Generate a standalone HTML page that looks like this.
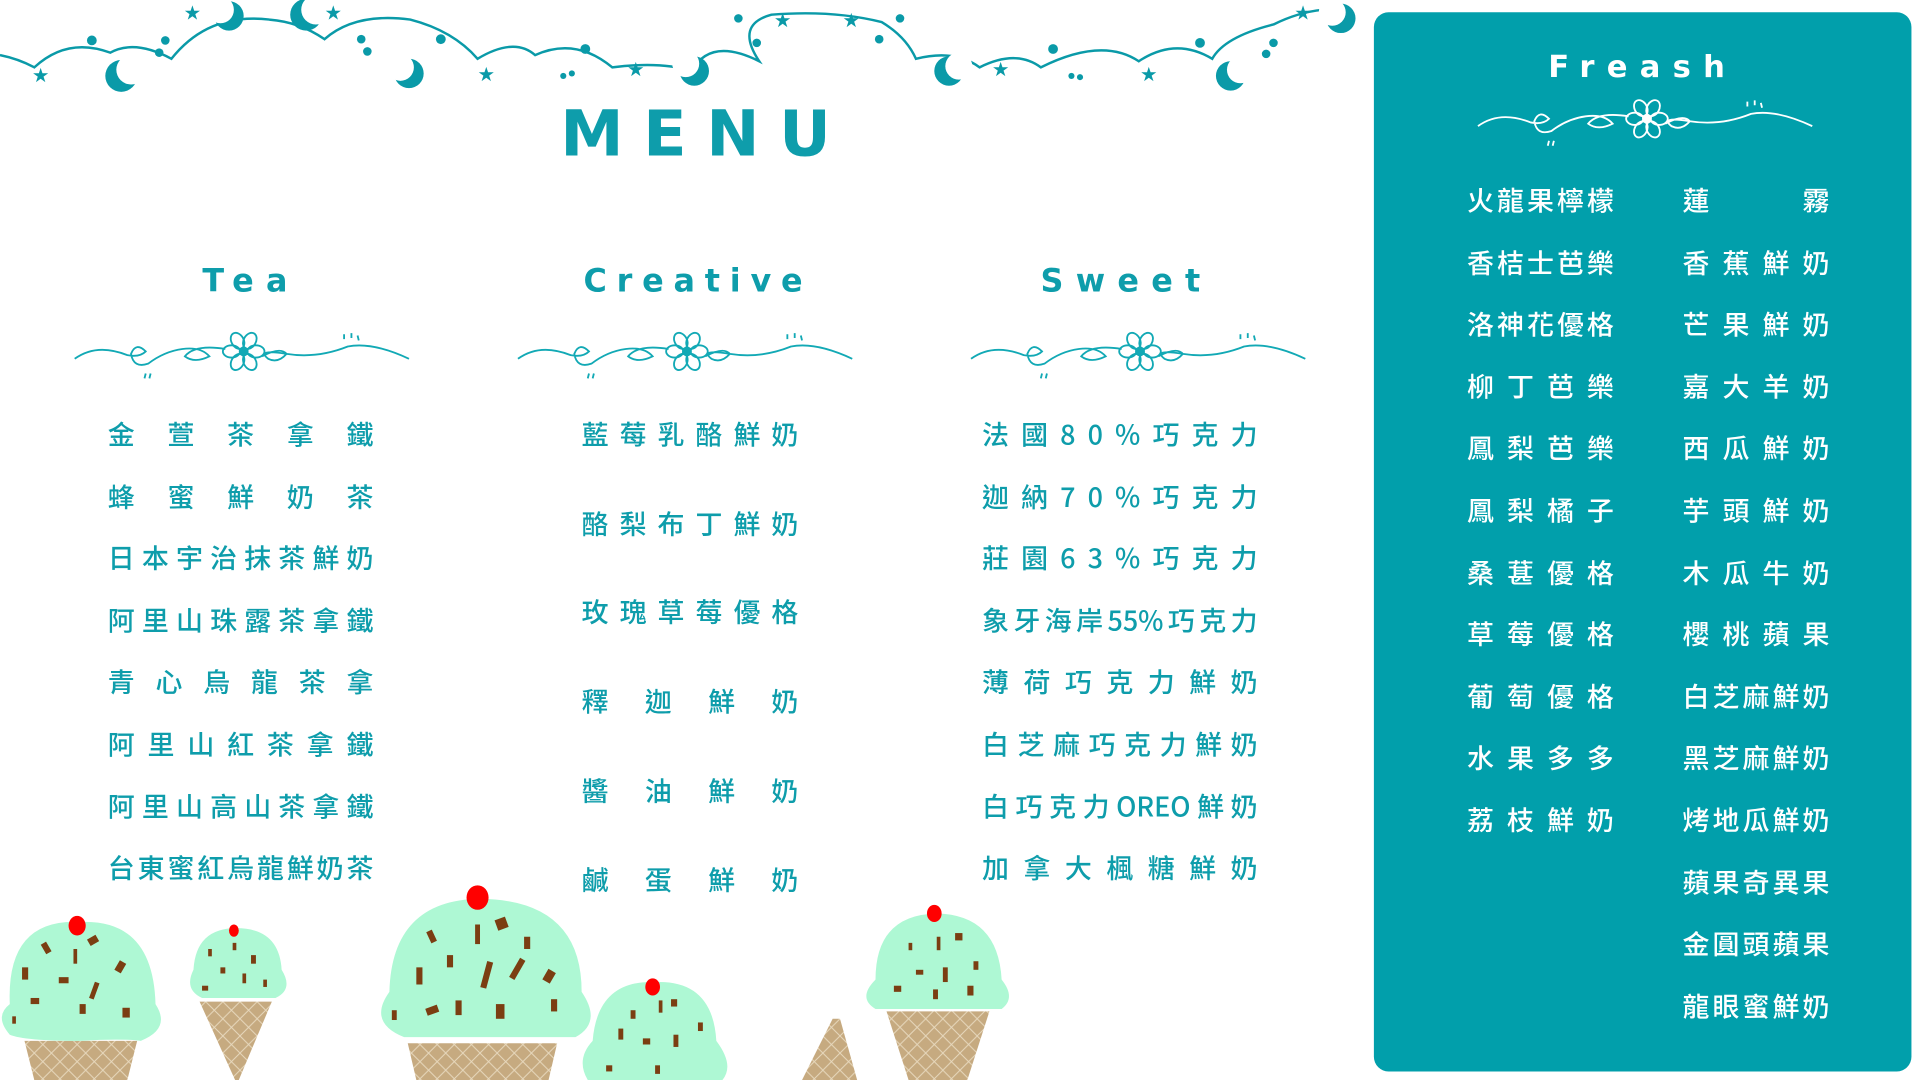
<!DOCTYPE html>
<html><head><meta charset="utf-8">
<style>
html,body{margin:0;padding:0;background:#fff;overflow:hidden;width:1920px;height:1080px}
#stage{position:absolute;left:0;top:0;width:1568px;height:882px;transform-origin:0 0;transform:scale(1.2245,1.2245);font-family:"Liberation Sans","Noto Sans CJK TC",sans-serif;color:#0e9dab}
.abs{position:absolute}
.h{font-family:"DejaVu Sans","Liberation Sans",sans-serif;font-weight:900;text-align:center;letter-spacing:10px}
.item{position:absolute;font-size:22px;font-weight:500;text-align:justify;text-align-last:justify;white-space:nowrap;line-height:26px;font-family:"Noto Sans CJK TC","Liberation Sans",sans-serif}
.split{display:flex;justify-content:space-between}
#panel{position:absolute;left:1122px;top:10px;width:439px;height:865px;background:#019fab;border-radius:12px}
.w{color:#fff}
</style></head><body>
<div id="stage">

<svg class="abs" style="left:0;top:0" width="1122" height="90">
 <path d="M0 45 Q15 48 28 55 Q55 30 90 43 Q110 32 140 48 Q170 10 220 16 Q245 18 265 32 Q290 10 335 16 Q370 25 390 48 Q420 30 437 45 Q470 30 500 55 Q540 50 565 58 Q580 30 620 50 Q600 20 630 12 Q680 8 720 18 Q740 30 748 48 Q780 40 800 55 Q830 40 850 55 Q900 30 930 50 Q960 30 990 48 Q1000 30 1040 20 Q1060 10 1080 8" fill="none" stroke="#0a9aa8" stroke-width="2"/>
 <g fill="#0a9aa8">
  <circle cx="99" cy="62" r="13"/><circle cx="107" cy="57" r="12" fill="#fff"/>
  <circle cx="187" cy="13" r="12"/><circle cx="180" cy="8" r="11" fill="#fff"/>
  <circle cx="250" cy="12" r="13"/><circle cx="258" cy="8" r="12" fill="#fff"/>
  <circle cx="334" cy="60" r="12"/><circle cx="327" cy="55" r="11" fill="#fff"/>
  <circle cx="567" cy="58" r="12"/><circle cx="560" cy="52" r="11" fill="#fff"/>
  <circle cx="775" cy="58" r="12"/><circle cx="783" cy="54" r="11" fill="#fff"/>
  <circle cx="1005" cy="62" r="12"/><circle cx="1013" cy="57" r="11" fill="#fff"/>
  <circle cx="1095" cy="15" r="12"/><circle cx="1088" cy="10" r="11" fill="#fff"/>
  <circle cx="75" cy="33" r="4"/><circle cx="135" cy="33" r="3.5"/><circle cx="130" cy="43" r="3.5"/>
  <circle cx="295" cy="32" r="3.5"/><circle cx="300" cy="42" r="3.5"/><circle cx="360" cy="32" r="4"/>
  <circle cx="478" cy="40" r="4"/><circle cx="460" cy="62" r="2.5"/><circle cx="467" cy="60" r="2.5"/>
  <circle cx="603" cy="15" r="3.5"/><circle cx="618" cy="35" r="3.5"/><circle cx="735" cy="15" r="3.5"/><circle cx="718" cy="32" r="3.5"/>
  <circle cx="860" cy="40" r="4"/><circle cx="875" cy="62" r="2.5"/><circle cx="882" cy="63" r="2.5"/>
  <circle cx="980" cy="35" r="4"/><circle cx="1040" cy="35" r="3.5"/><circle cx="1034" cy="44" r="3.5"/>
 </g>
 <g fill="#0a9aa8" font-size="16" font-family="DejaVu Sans">
  <text x="26" y="67">★</text><text x="150" y="16">★</text><text x="265" y="16">★</text><text x="390" y="66">★</text>
  <text x="512" y="62">★</text><text x="632" y="22">★</text><text x="688" y="22">★</text><text x="810" y="62">★</text>
  <text x="931" y="66">★</text><text x="1057" y="16">★</text>
 </g>
</svg>

<div class="abs h" style="left:400px;top:80px;width:320px;font-size:52px;letter-spacing:16px;padding-left:16px">MENU</div>

<div class="abs h" style="left:100px;top:215px;width:210px;font-size:26px">Tea</div>
<div class="abs h" style="left:440px;top:215px;width:260px;font-size:26px;letter-spacing:8px">Creative</div>
<div class="abs h" style="left:810px;top:215px;width:220px;font-size:26px">Sweet</div>

<div id="panel">
 <div class="abs h w" style="left:0;top:30px;width:439px;font-size:25px;letter-spacing:10px">Freash</div>
</div>

<div id="flourishes"></div>
<div id="items"></div>

<svg class="abs" style="left:0;top:720px" width="900" height="162">
 <defs>
  <pattern id="waf" width="14" height="14" patternUnits="userSpaceOnUse"><rect width="14" height="14" fill="#c6aa80"/><path d="M0 0L14 14M14 0L0 14" stroke="#e7d8bd" stroke-width="0.8"/></pattern>
 </defs>
 <g fill="url(#waf)">
  <polygon points="20,130 112,130 104,162 28,162"/>
  <polygon points="163,98 222,98 195,162 192,162"/>
  <polygon points="333,132 455,132 448,162 340,162"/>
  <polygon points="680,112 686,112 700,162 655,162"/>
  <polygon points="724,106 808,106 790,162 742,162"/>
 </g>
 <g fill="#aef8d4">
  <path d="M8 100 Q5 30 65 33 Q125 30 127 100 Q140 120 115 130 Q100 128 65 130 Q20 130 8 125 Q-5 110 8 100Z"/>
  <path d="M158 72 Q160 38 193 38 Q228 38 230 72 Q240 88 225 95 L165 95 Q150 88 158 72Z"/>
  <path d="M318 90 Q320 15 392 14 Q475 15 475 90 Q492 115 470 127 L330 127 Q300 115 318 90Z"/>
  <path d="M484 130 Q488 80 535 82 Q582 80 585 130 Q600 150 590 162 L480 162 Q470 145 484 130Z"/>
  <path d="M715 80 Q715 27 765 26 Q815 27 818 80 Q830 95 818 104 L715 104 Q700 95 715 80Z"/>
 </g>
 <g fill="#7b3e12">
  <rect x="35" y="50" width="5" height="9" transform="rotate(-30 37 54)"/><rect x="60" y="55" width="3" height="12"/><rect x="72" y="45" width="8" height="6" transform="rotate(-30 76 48)"/>
  <rect x="18" y="70" width="5" height="10"/><rect x="48" y="78" width="8" height="5"/><rect x="75" y="82" width="4" height="14" transform="rotate(20 77 89)"/>
  <rect x="95" y="65" width="6" height="9" transform="rotate(30 98 70)"/><rect x="25" y="95" width="7" height="5"/><rect x="65" y="100" width="5" height="8"/>
  <rect x="100" y="103" width="6" height="8"/><rect x="10" y="110" width="3" height="6"/>
  <rect x="170" y="55" width="3" height="6"/><rect x="190" y="50" width="3" height="6"/><rect x="205" y="60" width="4" height="7"/><rect x="180" y="70" width="4" height="5"/><rect x="198" y="75" width="3" height="8"/><rect x="165" y="85" width="5" height="4"/><rect x="215" y="80" width="3" height="6"/>
  <rect x="350" y="40" width="5" height="10" transform="rotate(-25 352 45)"/><rect x="388" y="35" width="4" height="16"/><rect x="405" y="30" width="9" height="9" transform="rotate(-20 409 34)"/><rect x="428" y="45" width="5" height="10"/>
  <rect x="340" y="70" width="5" height="14"/><rect x="365" y="60" width="5" height="10"/><rect x="395" y="65" width="5" height="22" transform="rotate(15 397 76)"/><rect x="420" y="62" width="5" height="18" transform="rotate(30 422 71)"/><rect x="445" y="72" width="7" height="10" transform="rotate(30 448 77)"/>
  <rect x="348" y="102" width="10" height="6" transform="rotate(-20 353 105)"/><rect x="372" y="97" width="5" height="12"/><rect x="405" y="100" width="7" height="12"/><rect x="450" y="96" width="5" height="10"/><rect x="320" y="105" width="4" height="8"/>
  <rect x="515" y="105" width="4" height="7"/><rect x="538" y="97" width="3" height="10"/><rect x="548" y="96" width="5" height="6"/><rect x="505" y="120" width="4" height="9"/><rect x="525" y="128" width="6" height="5"/><rect x="550" y="125" width="4" height="10"/><rect x="570" y="115" width="4" height="7"/><rect x="495" y="150" width="5" height="5"/><rect x="535" y="150" width="4" height="7"/>
  <rect x="742" y="50" width="3" height="6"/><rect x="765" y="45" width="3" height="11"/><rect x="780" y="42" width="6" height="6"/><rect x="748" y="72" width="6" height="4"/><rect x="770" y="70" width="4" height="12"/><rect x="795" y="65" width="4" height="7"/><rect x="730" y="85" width="6" height="5"/><rect x="762" y="88" width="4" height="8"/><rect x="790" y="85" width="5" height="8"/>
 </g>
 <g fill="#f00">
  <ellipse cx="63" cy="36" rx="7" ry="8"/><ellipse cx="191" cy="40" rx="4" ry="5"/><ellipse cx="390" cy="13" rx="9" ry="10"/><ellipse cx="533" cy="86" rx="6" ry="7"/><ellipse cx="763" cy="26" rx="6" ry="7"/>
 </g>
</svg>
</div>

<script>
const tea=["金萱茶拿鐵","蜂蜜鮮奶茶","日本宇治抹茶鮮奶","阿里山珠露茶拿鐵","青心烏龍茶拿","阿里山紅茶拿鐵","阿里山高山茶拿鐵","台東蜜紅烏龍鮮奶茶"];
const creative=["藍莓乳酪鮮奶","酪梨布丁鮮奶","玫瑰草莓優格","釋迦鮮奶","醬油鮮奶","鹹蛋鮮奶"];
const sweet=["法國80%巧克力","迦納70%巧克力","莊園63%巧克力","象牙海岸55%巧克力","薄荷巧克力鮮奶","白芝麻巧克力鮮奶","白巧克力OREO鮮奶","加拿大楓糖鮮奶"];
const freshA=["火龍果檸檬","香桔士芭樂","洛神花優格","柳丁芭樂","鳳梨芭樂","鳳梨橘子","桑葚優格","草莓優格","葡萄優格","水果多多","荔枝鮮奶"];
const freshB=["蓮霧","香蕉鮮奶","芒果鮮奶","嘉大羊奶","西瓜鮮奶","芋頭鮮奶","木瓜牛奶","櫻桃蘋果","白芝麻鮮奶","黑芝麻鮮奶","烤地瓜鮮奶","蘋果奇異果","金圓頭蘋果","龍眼蜜鮮奶"];
const box=document.getElementById('items');
function col(list,x,w,y0,step,white,name){
 list.forEach((t,i)=>{
  const d=document.createElement('div');
  d.className='item'+(white?' w':'');
  d.style.left=x+'px';d.style.width=w+'px';d.style.top=(y0+i*step-13)+'px';
  if(t.includes('%') && t.length<=8){
   d.classList.add('split');
   [...t].forEach(c=>{const s=document.createElement('span');s.textContent=c;d.appendChild(s);});
  } else d.textContent=t;
  
  
  box.appendChild(d);
 });
}
col(tea,88,217,354,50.6,false,'tea');
col(creative,475,177,354,72.7,false,'creative');
col(sweet,802,225,354,50.6,false,'sweet');
col(freshA,1198,120,163,50.6,true,'fresh');
col(freshB,1374,120,163,50.6,true,'fresh');

const fl=document.getElementById('flourishes');
function flourish(cx,cy,color){
 const s=`<svg class="abs" style="left:${cx-140}px;top:${cy-25}px" width="280" height="50"><g fill="none" stroke="${color}" stroke-width="1.5">
 <path d="M2 28 Q20 15 45 25 Q55 27 60 22 Q52 14 48 24 Q50 36 62 32 Q75 22 90 20 Q105 18 112 26 Q100 32 92 26 Q100 16 125 20"/>
 <path d="M155 26 Q170 18 175 24 Q168 32 160 28 Q150 20 175 24 Q200 28 225 18 Q245 14 275 28"/>
 ${[0,60,120,180,240,300].map(a=>`<ellipse cx="${140+Math.cos(a*Math.PI/180)*10}" cy="${22+Math.sin(a*Math.PI/180)*10}" rx="7" ry="5" transform="rotate(${a} ${140+Math.cos(a*Math.PI/180)*10} ${22+Math.sin(a*Math.PI/180)*10})"/>`).join('')}
 <path d="M60 40 L59 44 M64 40 L63 44 M222 8 L222 12 M228 7 L228 11 M233 9 L234 13"/></g>
 <circle cx="140" cy="22" r="4" fill="${color}"/></svg>`;
 const d=document.createElement('div');d.innerHTML=s;
 const el=d.firstChild;
 
 
 fl.appendChild(el);
}
flourish(199,290,'#12a9b5');flourish(561,290,'#12a9b5');flourish(931,290,'#12a9b5');
flourish(1345,100,'#ffffff');
</script>
</body></html>
